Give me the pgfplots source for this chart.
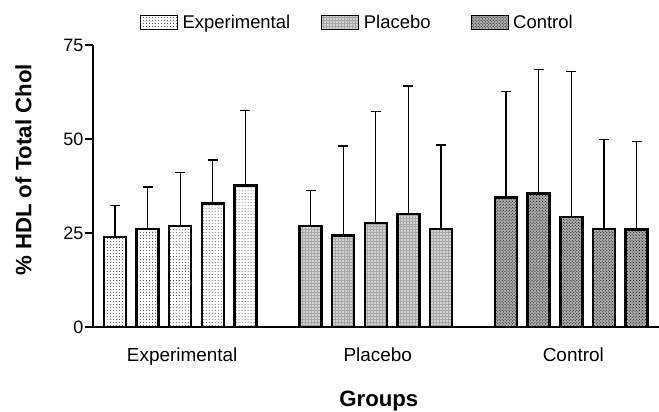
\documentclass[border=0pt]{standalone}
\usepackage{pgfplots}
\usepackage{pgfplotstable}
\pgfplotsset{compat=1.18}
\usepackage{fontspec}
\setmainfont{Liberation Sans}
\usetikzlibrary{patterns}

\pgfplotstableread{
x y e
0 24.0 8.3
1 26.1 11.1
2 26.9 14.1
3 32.8 11.6
4 37.6 19.9
}\exptab
\pgfplotstableread{
x y e
6 26.9 9.4
7 24.3 23.8
8 27.6 29.7
9 30.0 34.1
10 26.1 22.3
}\platab
\pgfplotstableread{
x y e
12 34.4 28.2
13 35.5 32.9
14 29.3 38.6
15 26.1 23.8
16 25.9 23.4
}\contab

\begin{document}
\begin{tikzpicture}
\path[use as bounding box] (-93bp,-85bp) rectangle (566bp,327bp);
\begin{axis}[
  at={(0,0)}, anchor=south west,
  scale only axis, width=566bp, height=282bp,
  xmin=-0.675, xmax=16.69, ymin=0, ymax=75,
  axis lines=left, axis line style={line width=1.4bp, -},
  ybar, bar width=22bp, bar shift=0pt,
  xtick={2,8,14}, xticklabels={Experimental,Placebo,Control},
  ytick={0,25,50,75},
  tick align=outside,
  x tick style={draw=none},
  y tick style={line width=1.4bp, black},
  major tick length=8bp,
  yticklabel style={font=\fontsize{18}{20}\selectfont, inner sep=1.5bp},
  /pgf/number format/assume math mode=true,
  xticklabel style={font=\fontsize{19}{21}\selectfont, anchor=base, yshift=-26bp, xshift=2bp},
  ylabel={\% HDL of Total Chol},
  ylabel style={at={(axis description cs:-0.1228,0.557)}, anchor=center, font=\bfseries\fontsize{22.3}{25}\selectfont},
  xlabel={Groups},
  xlabel style={at={(axis description cs:0.505,0)}, anchor=base, yshift=-79.7bp, font=\bfseries\fontsize{22.3}{25}\selectfont},
  legend columns=3,
  legend style={at={(axis description cs:0.083,1.0798)}, anchor=west, draw=none, fill=none, inner sep=0pt, outer sep=0pt, font=\fontsize{18.5}{20}\selectfont},
  legend image code/.code={\draw[#1, line width=0.7bp] (0bp,-6.8bp) rectangle (37bp,6.8bp);},
  error bars/y dir=plus, error bars/y explicit,
  error bars/error bar style={line width=1.3bp, black},
  error bars/error mark options={rotate=90, line width=1.3bp, black, mark size=5bp},
]
\addplot[draw=black, line width=2.5bp, fill=white, postaction={pattern=dots, pattern color=black!75}]
  table[x=x, y=y, y error=e] {\exptab};
\addlegendentry{\rule{3bp}{0pt}Experimental\rule{29bp}{0pt}}
\addplot[draw=black, line width=2.5bp, fill=gray!35, postaction={pattern=grid, pattern color=gray!70}]
  table[x=x, y=y, y error=e] {\platab};
\addlegendentry{\rule{3bp}{0pt}Placebo\rule{38bp}{0pt}}
\addplot[draw=black, line width=2.5bp, fill=gray!65, postaction={pattern=crosshatch dots, pattern color=black}]
  table[x=x, y=y, y error=e] {\contab};
\addlegendentry{\rule{3bp}{0pt}Control}
\end{axis}
\end{tikzpicture}
\end{document}
